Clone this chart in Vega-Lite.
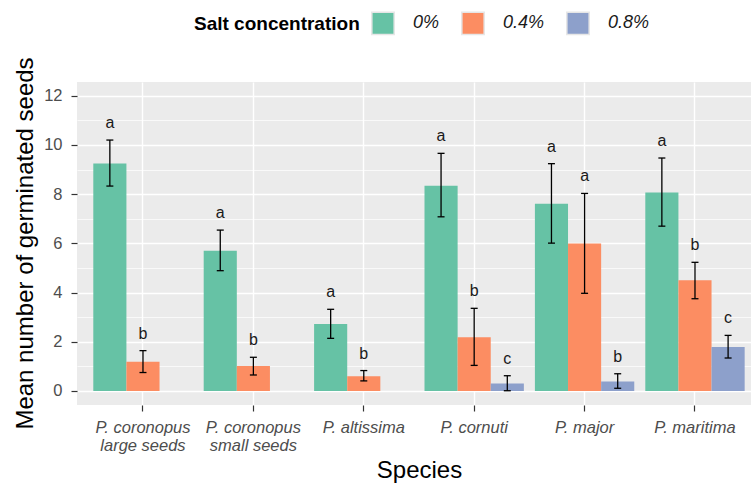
{
  "$schema": "https://vega.github.io/schema/vega-lite/v6.json",
  "width": 674,
  "height": 323,
  "autosize": {"type": "none"},
  "padding": {"left": 77, "top": 82, "right": 0, "bottom": 78},
  "background": "white",
  "config": {
    "font": "Liberation Sans",
    "view": {"fill": "#EBEBEB", "stroke": null}
  },
  "data": {
    "values": [
      {"species": "P. coronopus large seeds", "conc": "0%", "mean": 9.25, "lower": 8.33, "upper": 10.2, "letter": "a"},
      {"species": "P. coronopus large seeds", "conc": "0.4%", "mean": 1.19, "lower": 0.75, "upper": 1.64, "letter": "b"},
      {"species": "P. coronopus small seeds", "conc": "0%", "mean": 5.70, "lower": 4.89, "upper": 6.54, "letter": "a"},
      {"species": "P. coronopus small seeds", "conc": "0.4%", "mean": 1.02, "lower": 0.65, "upper": 1.37, "letter": "b"},
      {"species": "P. altissima", "conc": "0%", "mean": 2.72, "lower": 2.14, "upper": 3.32, "letter": "a"},
      {"species": "P. altissima", "conc": "0.4%", "mean": 0.60, "lower": 0.41, "upper": 0.83, "letter": "b"},
      {"species": "P. cornuti", "conc": "0%", "mean": 8.34, "lower": 7.08, "upper": 9.66, "letter": "a"},
      {"species": "P. cornuti", "conc": "0.4%", "mean": 2.18, "lower": 1.04, "upper": 3.36, "letter": "b"},
      {"species": "P. cornuti", "conc": "0.8%", "mean": 0.30, "lower": 0.01, "upper": 0.62, "letter": "c"},
      {"species": "P. major", "conc": "0%", "mean": 7.61, "lower": 6.01, "upper": 9.24, "letter": "a"},
      {"species": "P. major", "conc": "0.4%", "mean": 5.99, "lower": 3.97, "upper": 8.03, "letter": "a"},
      {"species": "P. major", "conc": "0.8%", "mean": 0.39, "lower": 0.11, "upper": 0.70, "letter": "b"},
      {"species": "P. maritima", "conc": "0%", "mean": 8.07, "lower": 6.70, "upper": 9.47, "letter": "a"},
      {"species": "P. maritima", "conc": "0.4%", "mean": 4.50, "lower": 3.75, "upper": 5.23, "letter": "b"},
      {"species": "P. maritima", "conc": "0.8%", "mean": 1.79, "lower": 1.34, "upper": 2.26, "letter": "c"}
    ]
  },
  "encoding": {
    "x": {
      "field": "species", "type": "nominal", "sort": null,
      "scale": {"paddingInner": 0.1, "paddingOuter": 0.1025, "align": 0.72},
      "axis": {
        "title": "Species", "titleFontSize": 24, "titleFontWeight": "normal", "titleColor": "#000000",
        "titleX": 342, "titleY": 72, "titleBaseline": "alphabetic", "titleAlign": "center",
        "labelAngle": 0, "labelFontSize": 16.5, "labelFontStyle": "italic", "labelColor": "#4D4D4D",
        "labelPadding": 8, "labelLineHeight": 18,
        "labelExpr": "indexof(datum.value, ' seeds') > 0 ? [substring(datum.value, 0, 12), substring(datum.value, 13)] : datum.value",
        "tickSize": 6, "tickColor": "#333333", "tickWidth": 1.2,
        "domain": false, "grid": true, "gridColor": "#FFFFFF", "gridWidth": 1.4
      }
    },
    "xOffset": {"field": "conc", "type": "nominal", "scale": {"domain": ["0%", "0.4%", "0.8%"], "paddingInner": 0, "paddingOuter": 0}}
  },
  "layer": [
    {
      "mark": {"type": "bar", "opacity": 1},
      "encoding": {
        "y": {
          "field": "mean", "type": "quantitative",
          "scale": {"domain": [-0.57, 12.56], "nice": false, "zero": false},
          "axis": {
            "title": "Mean number of germinated seeds", "titleFontSize": 24, "titleFontWeight": "normal", "titleColor": "#000000",
            "titleX": -45, "titleY": 161, "titleBaseline": "alphabetic", "titleAlign": "center", "titleAngle": -90,
            "values": [0, 2, 4, 6, 8, 10, 12],
            "labelFontSize": 16.5, "labelColor": "#4D4D4D", "labelPadding": 9,
            "tickSize": 6, "tickColor": "#333333", "tickWidth": 1.2,
            "domain": false, "grid": true, "gridColor": "#FFFFFF", "gridWidth": 1.4
          }
        },
        "color": {
          "field": "conc", "type": "nominal",
          "scale": {"domain": ["0%", "0.4%", "0.8%"], "range": ["#66C2A5", "#FC8D62", "#8DA0CB"]},
          "legend": {
            "title": "Salt concentration", "orient": "none", "legendX": 117, "legendY": -71,
            "direction": "horizontal", "titleOrient": "left", "titleFontSize": 19, "titleFontWeight": "bold",
            "titleColor": "#000000", "titlePadding": 11, "titleBaseline": "middle",
            "symbolType": "square", "symbolSize": 500, "symbolStrokeColor": "#E6E6E6", "symbolStrokeWidth": 1.5,
            "symbolOpacity": 1, "labelFontSize": 18, "labelFontStyle": "italic", "labelColor": "#1A1A1A",
            "labelOffset": 18, "columnPadding": 18
          }
        }
      }
    },
    {
      "mark": {"type": "rule", "color": "#000000", "strokeWidth": 1.3},
      "encoding": {
        "y": {
          "field": "lower", "type": "quantitative",
          "axis": {
            "values": [1, 3, 5, 7, 9, 11], "orient": "left", "title": null, "labels": false, "ticks": false,
            "domain": false, "grid": true, "gridColor": "#FFFFFF", "gridWidth": 0.7
          }
        },
        "y2": {"field": "upper"}
      }
    },
    {
      "mark": {"type": "tick", "color": "#000000", "thickness": 1.3, "size": 7, "opacity": 1},
      "encoding": {"y": {"field": "lower", "type": "quantitative", "axis": null}}
    },
    {
      "mark": {"type": "tick", "color": "#000000", "thickness": 1.3, "size": 7, "opacity": 1},
      "encoding": {"y": {"field": "upper", "type": "quantitative", "axis": null}}
    },
    {
      "mark": {"type": "text", "fontSize": 16, "color": "#1A1A1A", "baseline": "alphabetic", "dy": -12},
      "encoding": {
        "y": {"field": "upper", "type": "quantitative", "axis": null},
        "text": {"field": "letter"}
      }
    }
  ],
  "resolve": {"axis": {"y": "independent"}}
}
